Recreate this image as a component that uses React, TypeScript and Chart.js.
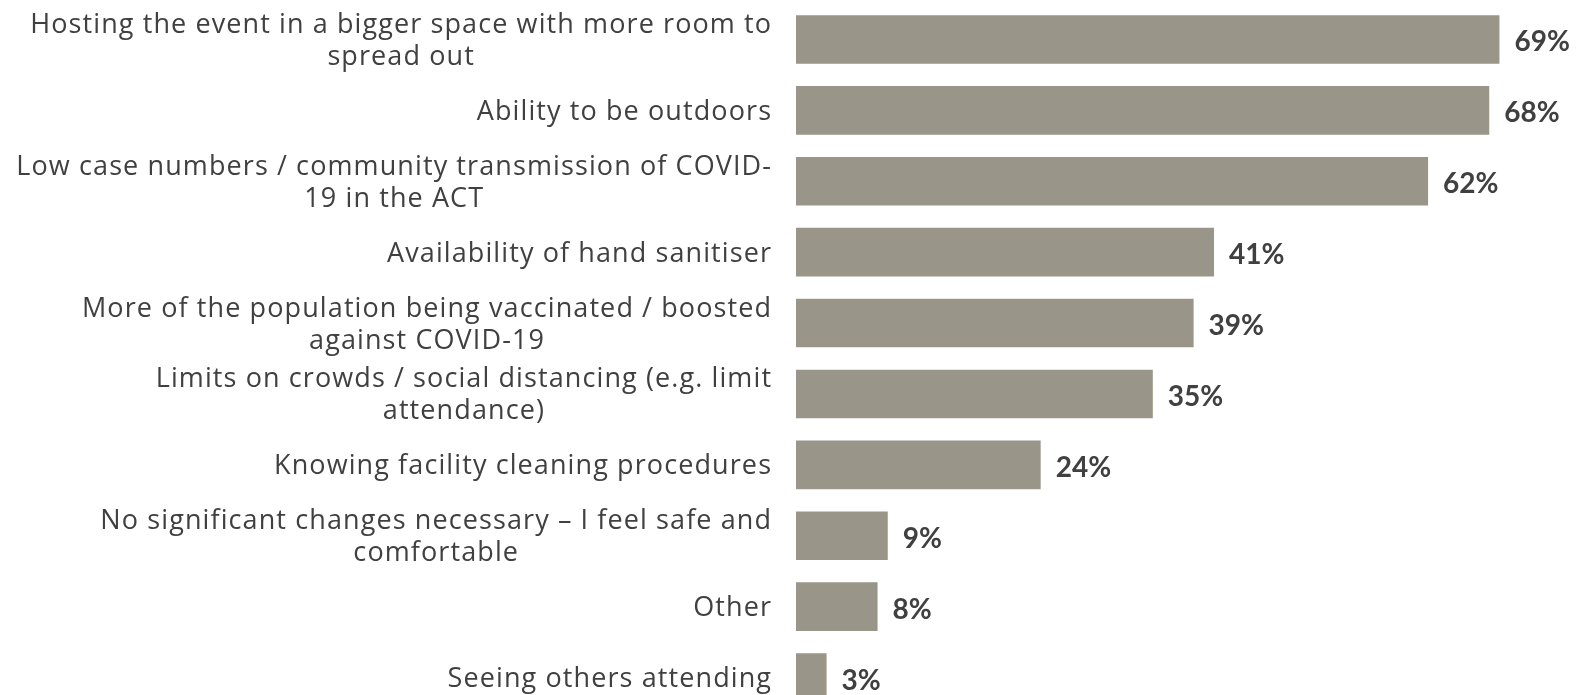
import React, { useEffect, useRef } from "react";
import { Chart, registerables } from "chart.js";

Chart.register(...registerables);

const categories: string[][] = [
  ["Hosting the event in a bigger space with more room to", "spread out"],
  ["Ability to be outdoors"],
  ["Low case numbers / community transmission of COVID-", "19 in the ACT"],
  ["Availability of hand sanitiser"],
  ["More of the population being vaccinated / boosted", "against COVID-19"],
  ["Limits on crowds / social distancing (e.g. limit", "attendance)"],
  ["Knowing facility cleaning procedures"],
  ["No significant changes necessary \u2013 I feel safe and", "comfortable"],
  ["Other"],
  ["Seeing others attending"],
];

const values: number[] = [69, 68, 62, 41, 39, 35, 24, 9, 8, 3];

const LABEL_FONT = "27px 'Open Sans'";
const VALUE_FONT = "bold 28px Lato";
const TEXT_COLOR = "#404040";
const BAR_COLOR = "#999689";

const labelPlugin = {
  id: "customLabels",
  afterDraw(chart: any) {
    const ctx = chart.ctx;
    const yScale = chart.scales.y;
    const meta = chart.getDatasetMeta(0);
    ctx.save();
    // category labels
    ctx.font = LABEL_FONT;
    ctx.fillStyle = TEXT_COLOR;
    ctx.textAlign = "left";
    ctx.textBaseline = "alphabetic";
    (ctx as any).letterSpacing = "1.1px";
    const rightEdge = chart.chartArea.left - 25;
    const lineH = 32;
    categories.forEach((lines, i) => {
      const cy = yScale.getPixelForValue(i);
      const widths = lines.map((l) => ctx.measureText(l).width - 1.1);
      const maxW = Math.max(...widths);
      const cx = rightEdge - maxW / 2;
      lines.forEach((l, k) => {
        const y = cy + (k - (lines.length - 1) / 2) * lineH + 9.5;
        ctx.fillText(l, cx - widths[k] / 2, y);
      });
    });
    // value labels
    (ctx as any).letterSpacing = "0px";
    ctx.font = VALUE_FONT;
    ctx.textAlign = "left";
    meta.data.forEach((bar: any, i: number) => {
      ctx.fillText(values[i] + "%", bar.x + 15, bar.y + 12);
    });
    ctx.restore();
  },
};

export default function App() {
  const ref = useRef<HTMLCanvasElement | null>(null);
  useEffect(() => {
    if (!ref.current) return;
    const chart = new Chart(ref.current, {
      type: "bar",
      data: {
        labels: categories.map((c) => c.join(" ")),
        datasets: [
          {
            data: values,
            backgroundColor: BAR_COLOR,
            barPercentage: 0.686,
            categoryPercentage: 1,
          },
        ],
      },
      options: {
        indexAxis: "y",
        responsive: false,
        animation: false,
        layout: { padding: { left: 796, right: 2, top: 4, bottom: 7 } },
        scales: {
          x: { display: false, min: 0, max: 77 },
          y: { display: false },
        },
        plugins: {
          legend: { display: false },
          tooltip: { enabled: false },
        },
      },
      plugins: [labelPlugin],
    });
    return () => chart.destroy();
  }, []);
  return (
    <div
      style={{
        position: "fixed",
        left: 0,
        top: 0,
        width: 1583,
        height: 695,
        overflow: "hidden",
        background: "#ffffff",
      }}
    >
      <canvas ref={ref} width={1583} height={720} />
    </div>
  );
}
